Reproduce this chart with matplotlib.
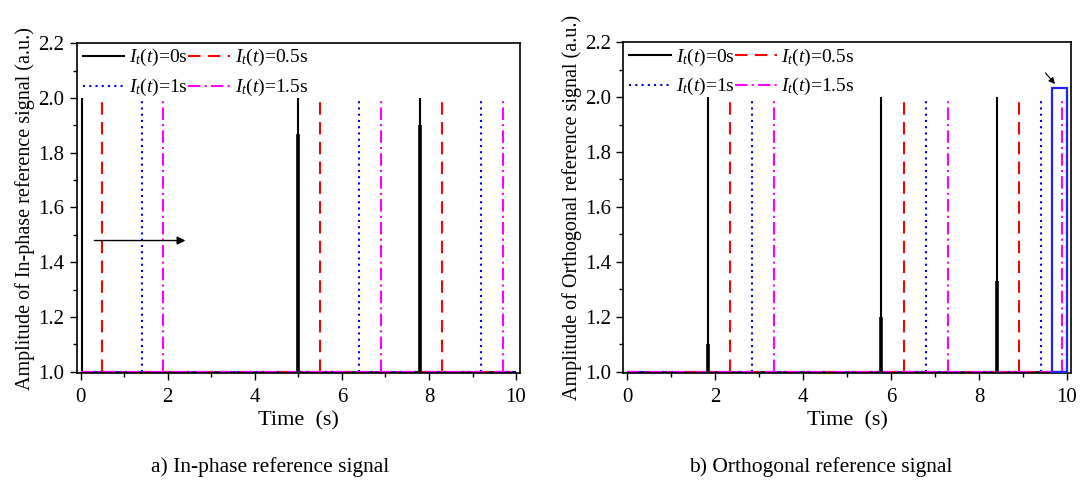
import matplotlib
matplotlib.use("Agg")
import matplotlib.pyplot as plt
from matplotlib.patches import Rectangle
from matplotlib.ticker import MultipleLocator

plt.rcParams['font.family'] = ['Liberation Serif', 'DejaVu Serif']
plt.rcParams['mathtext.fontset'] = 'custom'
plt.rcParams['mathtext.rm'] = 'Liberation Serif'
plt.rcParams['mathtext.it'] = 'Liberation Serif:italic'

# ---- data ----
series_labels = [r'$I_t(t)$=0s', r'$I_t(t)$=0.5s', r'$I_t(t)$=1s', r'$I_t(t)$=1.5s']
baseline = 1.0
t_start, t_end = 0.0, 10.0

# In-phase reference signal: spike times / peak values per series
inphase_times = [[0.03, 5.0, 7.8], [0.5, 5.5, 8.3], [1.4, 6.4, 9.2], [1.9, 6.9, 9.7]]
inphase_peaks = [[2.0, 2.0, 2.0], [2.0, 2.0, 2.0], [2.0, 2.0, 2.0], [2.0, 2.0, 2.0]]
inphase_black_sub = [1.0, 1.87, 1.9]

# Orthogonal reference signal
orth_times = [[1.83, 5.78, 8.4], [2.33, 6.3, 8.9], [2.83, 6.8, 9.4], [3.33, 7.3, 9.9]]
orth_peaks = [[2.0, 2.0, 2.0], [2.0, 2.0, 2.0], [2.0, 2.0, 2.0], [2.0, 2.0, 2.0]]
orth_black_sub = [1.1, 1.2, 1.33]

colors = ['black', '#ff0000', '#0000ff', '#ff00ff']
styles = ['-', (0, (6, 3.5)), (0, (1, 2)), (0, (6, 2, 1, 2))]

fig = plt.figure(figsize=(10.81, 4.93), dpi=100)
ax1 = fig.add_axes([0.071, 0.2434, 0.410, 0.669])
ax2 = fig.add_axes([0.5766, 0.2434, 0.414, 0.671])


def draw(ax, times, peaks, sub, ylabel):
    handles = []
    for i in range(4):
        ax.hlines(baseline, t_start, t_end, colors=colors[i], linestyles=styles[i], lw=1.5)
        ax.vlines(times[i], baseline, peaks[i], colors=colors[i], linestyles=styles[i], lw=1.5)
        h, = ax.plot([], [], color=colors[i], linestyle=styles[i], lw=1.5, label=series_labels[i])
        handles.append(h)
    ax.vlines(times[0], baseline, sub, colors='black', lw=2.6)
    ax.set_xlim(-0.09, 10.09)
    ax.set_ylim(0.995, 2.2)
    ax.xaxis.set_major_locator(MultipleLocator(2))
    ax.xaxis.set_minor_locator(MultipleLocator(1))
    ax.yaxis.set_major_locator(MultipleLocator(0.2))
    ax.yaxis.set_minor_locator(MultipleLocator(0.1))
    ax.yaxis.set_major_formatter(matplotlib.ticker.FormatStrFormatter('%.1f'))
    ax.tick_params(which='both', direction='out', top=False, right=False, labelsize=15)
    ax.tick_params(which='major', length=5, width=1)
    ax.tick_params(axis='x', which='major', pad=6)
    ax.tick_params(axis='y', which='major', pad=4)
    ax.tick_params(which='minor', length=3, width=1)
    for s in ax.spines.values():
        s.set_linewidth(1.2)
    ax.set_xlabel('Time  (s)', fontsize=16, labelpad=3)
    ax.set_ylabel(ylabel, fontsize=14.5, labelpad=2)
    ax.legend(handles=[handles[0], handles[2], handles[1], handles[3]],
              labels=[series_labels[0], series_labels[2], series_labels[1], series_labels[3]],
              ncol=2, loc='upper left', bbox_to_anchor=(0.0, 1.005), frameon=False,
              fontsize=14, handlelength=2.15, handletextpad=0.25, columnspacing=0.0,
              labelspacing=0.45, borderaxespad=0.1, borderpad=0.2)


draw(ax1, inphase_times, inphase_peaks, inphase_black_sub,
     'Amplitude of In-phase reference signal (a.u.)')
draw(ax2, orth_times, orth_peaks, orth_black_sub,
     'Amplitude of Orthogonal reference signal (a.u.)')

# annotations
ax1.annotate('', xy=(2.47, 1.479), xytext=(0.25, 1.479),
             arrowprops=dict(arrowstyle='-|>', color='black', lw=1.0, mutation_scale=12))
ax2.add_patch(Rectangle((9.67, 1.0), 0.33, 1.034, fill=False, edgecolor='#1f1fff', lw=1.6, zorder=5))
ax2.annotate('', xy=(9.77, 2.04), xytext=(9.47, 2.096),
             arrowprops=dict(arrowstyle='-|>', color='black', lw=0.8, mutation_scale=9))

fig.text(0.25, 0.053, 'a) In-phase reference signal', ha='center', va='center', fontsize=15.5)
fig.text(0.759, 0.053, 'b) Orthogonal reference signal', ha='center', va='center', fontsize=15.5)

fig.savefig('out.png', dpi=100)
